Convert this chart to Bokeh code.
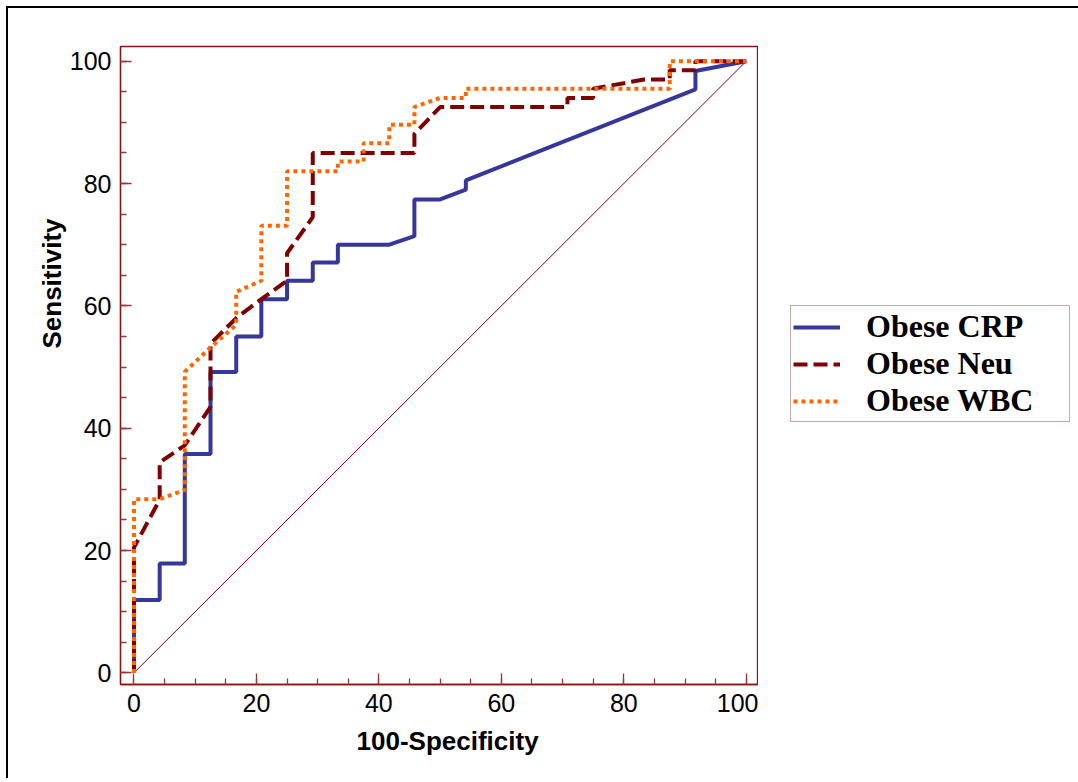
import math
from bokeh.plotting import figure
from bokeh.layouts import row
from bokeh.models import Range1d, SingleIntervalTicker, Legend, LegendItem, Title
from bokeh.embed import file_html
from bokeh.resources import INLINE

# ROC curve data (100-Specificity, Sensitivity)
crp_x = [0, 0, 4.2, 4.2, 8.3, 8.3, 12.5, 12.5, 16.7, 16.7, 20.8, 20.8, 25, 25, 29.2, 29.2,
         33.3, 33.3, 41.7, 45.8, 45.8, 50, 54.2, 54.2, 91.7, 91.7, 100]
crp_y = [0, 11.9, 11.9, 17.9, 17.9, 35.8, 35.8, 49.2, 49.2, 55.0, 55.0, 61.1, 61.1, 64.1, 64.1, 67.1,
         67.1, 70.0, 70.0, 71.4, 77.4, 77.4, 79.0, 80.5, 95.4, 98.4, 100]

neu_x = [0, 0, 4.2, 4.2, 8.3, 12.5, 12.5, 16.7, 20.8, 25, 25, 29.2, 29.2, 45.8, 45.8, 50,
         70.8, 70.8, 75, 75, 83.3, 87.5, 87.5, 91.7, 91.7, 100]
neu_y = [0, 20.5, 28.3, 34.4, 37.2, 43.5, 53.8, 58.0, 61.1, 64.1, 68.6, 74.5, 85.0, 85.0, 88.1, 92.5,
         92.5, 94.0, 94.0, 95.5, 97.0, 97.0, 98.5, 98.5, 100, 100]

wbc_x = [0, 0, 4.2, 8.3, 8.3, 12.5, 16.7, 16.7, 20.8, 20.8, 25, 25, 33.3, 33.3, 37.5, 37.5,
         41.7, 41.7, 45.8, 45.8, 50, 54.2, 54.2, 87.5, 87.5, 100]
wbc_y = [0, 28.4, 28.4, 29.9, 49.2, 53.2, 56.9, 62.3, 64.1, 73.1, 73.1, 82.0, 82.0, 83.6, 83.6, 86.6,
         86.6, 89.6, 89.6, 92.5, 94.0, 94.0, 95.5, 95.5, 100, 100]

ref_x = [0, 100]
ref_y = [0, 100]

series_names = ["Obese CRP", "Obese Neu", "Obese WBC"]
series_colors = ["#35379a", "#7f0000", "#ff6600"]
series_dash = ["solid", "14 6", "4 4"]
series_x = [crp_x, neu_x, wbc_x]
series_y = [crp_y, neu_y, wbc_y]
x_title = "100-Specificity"
y_title = "Sensitivity"

FRAME = "#8B1010"
TICK = "#9a3535"

p = figure(width=750, height=770, output_backend="svg", toolbar_location=None,
           x_range=Range1d(-2.2, 102.0), y_range=Range1d(-1.9, 102.4),
           min_border_left=112, min_border_right=0, min_border_top=38, min_border_bottom=94)
p.grid.visible = False
p.outline_line_color = FRAME
p.outline_line_width = 1.3
p.background_fill_color = "white"
p.border_fill_color = "white"

for ax in (p.xaxis[0], p.yaxis[0]):
    ax.ticker = SingleIntervalTicker(interval=20, num_minor_ticks=4)
    ax.axis_line_color = FRAME
    ax.axis_line_width = 1.3
    ax.major_tick_line_color = TICK
    ax.minor_tick_line_color = TICK
    ax.major_tick_line_width = 1.3
    ax.minor_tick_line_width = 1.3
    ax.major_tick_in = 11
    ax.major_tick_out = 0
    ax.minor_tick_in = 6
    ax.minor_tick_out = 0
    ax.major_label_text_font = "Liberation Sans"
    ax.major_label_text_font_size = "25px"
    ax.major_label_text_color = "black"
    ax.major_label_standoff = 9

p.line(ref_x, ref_y, line_color="#800000", line_width=1)
for xs, ys, col, dash in zip(series_x, series_y, series_colors, series_dash):
    p.line(xs, ys, line_color=col, line_width=4, line_dash=dash)

p.add_layout(Title(text=y_title, align="right", offset=172, standoff=0,
                   text_font="Liberation Sans", text_font_style="bold",
                   text_font_size="26px", text_color="black"), "left")
p.add_layout(Title(text=x_title, align="left", offset=236, standoff=19,
                   text_font="Liberation Sans", text_font_style="bold",
                   text_font_size="26px", text_color="black"), "below")

# legend panel (separate canvas to the right of the plot); proxy lines lie outside its view
q = figure(width=320, height=770, output_backend="svg", toolbar_location=None,
           x_range=Range1d(1000, 1001), y_range=Range1d(1000, 1001), min_border=0)
q.axis.visible = False
q.grid.visible = False
q.outline_line_color = None
q.background_fill_color = "white"
q.border_fill_color = "white"
items = []
for name, xs, ys, col, dash in zip(series_names, series_x, series_y, series_colors, series_dash):
    r = q.line(xs, ys, line_color=col, line_width=4, line_dash=dash)
    items.append(LegendItem(label=name, renderers=[r]))

legend = Legend(items=items, location=(32, 262))
legend.label_text_font = "Liberation Serif"
legend.label_text_font_style = "bold"
legend.label_text_font_size = "32px"
legend.label_text_line_height = 1.05
legend.label_text_color = "black"
legend.label_height = 30
legend.glyph_height = 30
legend.glyph_width = 47
legend.label_standoff = 26
legend.label_width = 201
legend.padding = 2
legend.spacing = 0
legend.margin = 0
legend.border_line_color = "#9c5050"
legend.border_line_width = 1.5
legend.background_fill_color = "white"
legend.background_fill_alpha = 1.0
q.add_layout(legend)

layout = row(p, q)
layout.styles = {"border-left": "2px solid black", "border-top": "2px solid black",
                 "margin-left": "6px", "margin-top": "6px"}

open("out.html", "w").write(file_html(layout, INLINE))
